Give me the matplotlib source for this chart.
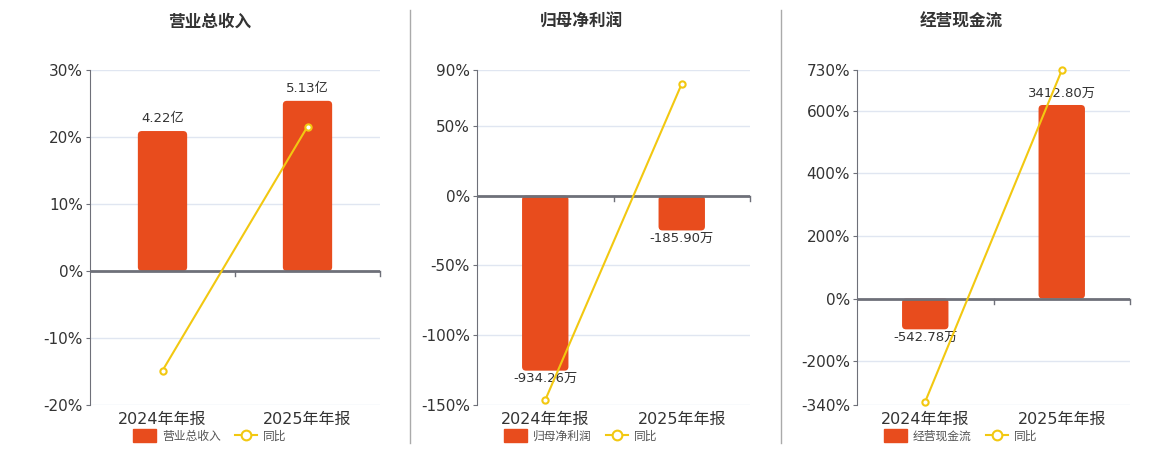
import matplotlib.pyplot as plt
import matplotlib.transforms as mtrans
from matplotlib.lines import Line2D
from matplotlib.patches import Patch, FancyBboxPatch

plt.rcParams['font.family'] = ['DejaVu Sans', 'Noto Sans CJK SC']

# data
categories = ['2024年年报', '2025年年报']
titles = ['营业总收入', '归母净利润', '经营现金流']
bar_values = [[4.22, 5.13], [-934.26, -185.90], [-542.78, 3412.80]]
bar_labels = [['4.22亿', '5.13亿'], ['-934.26万', '-185.90万'], ['-542.78万', '3412.80万']]
yoy_values = [[-14.86, 21.56], [-146.4, 80.1], [-329.0, 728.76]]
pct_ticks = [[-20, -10, 0, 10, 20, 30],
             [-150, -100, -50, 0, 50, 90],
             [-340, -200, 0, 200, 400, 600, 730]]
# bar unit per percent point (the hidden bar axis shares zero with the % axis)
bar_scale = [0.202, 7.45, 5.52]

BAR = '#e84c1d'
LINE = '#f2c811'
AXC = '#6e7079'
GRID = '#e0e6f1'
TXT = '#333333'

W, H = 1160, 450
fig = plt.figure(figsize=(W / 100, H / 100), dpi=100)

panels = [(90, 290, 210), (477, 273, 581), (857, 273, 961)]  # left px, width px, title centre px
top, bottom = 70, 405
radius_px = 4

for i, (left, width, tc) in enumerate(panels):
    rect = [left / W, (H - bottom) / H, width / W, (bottom - top) / H]
    ax_bar = fig.add_axes(rect)
    ax = ax_bar.twinx()
    ax.set_zorder(ax_bar.get_zorder() + 1)
    ax.patch.set_visible(False)

    lo, hi = pct_ticks[i][0], pct_ticks[i][-1]
    k = bar_scale[i]
    x = list(range(len(categories)))

    # bars on hidden axis
    ax_bar.set_ylim(lo * k, hi * k)
    ax_bar.set_xlim(-0.5, len(categories) - 0.5)
    ax_bar.set_yticks([t * k for t in pct_ticks[i]])
    ax_bar.grid(axis='y', color=GRID, lw=1)
    ax_bar.set_axisbelow(True)
    ax_bar.tick_params(axis='y', left=False, right=False, labelleft=False)
    for s in ax_bar.spines.values():
        s.set_visible(False)
    bars = ax_bar.bar(x, bar_values[i], width=0.34, color=BAR, zorder=2)

    # rounded corners
    px_x = width / len(categories)
    px_y = (bottom - top) / ((hi - lo) * k)
    r = radius_px / px_x
    for b, v in zip(bars, bar_values[i]):
        b.set_visible(False)
        fb = FancyBboxPatch((b.get_x(), min(0, v)), b.get_width(), abs(v),
                            boxstyle=f'round,pad=0,rounding_size={r}',
                            mutation_aspect=px_x / px_y, fc=BAR, ec='none', zorder=2)
        ax_bar.add_patch(fb)

    for b, v, lab in zip(bars, bar_values[i], bar_labels[i]):
        if v >= 0:
            ax_bar.annotate(lab, (b.get_x() + b.get_width() / 2, v), xytext=(0, 4),
                            textcoords='offset points', ha='center', va='bottom',
                            fontsize=9.5, color=TXT)
        else:
            ax_bar.annotate(lab, (b.get_x() + b.get_width() / 2, v), xytext=(0, -1),
                            textcoords='offset points', ha='center', va='top',
                            fontsize=9.5, color=TXT)
    ax_bar.set_xticks(x)
    ax_bar.set_xticklabels(categories, fontsize=11.5, color=TXT)
    ax_bar.tick_params(axis='x', length=0, pad=5)

    # percent axis (visible, on the left)
    ax.set_ylim(lo, hi)
    ax.yaxis.tick_left()
    ax.set_yticks(pct_ticks[i])
    ax.set_yticklabels([f'{t}%' for t in pct_ticks[i]], fontsize=11, color=TXT)
    ax.tick_params(axis='y', length=3, color=AXC, pad=2)
    for s in ['top', 'right', 'bottom']:
        ax.spines[s].set_visible(False)
    ax.spines['left'].set_color(AXC)
    ax.axhline(0, color=AXC, lw=2, zorder=3)
    tr = mtrans.blended_transform_factory(ax.transData, ax.transAxes)
    zf = (0 - lo) / (hi - lo)
    for bnd in [xi + 0.5 for xi in x]:
        ax.plot([bnd, bnd], [zf, zf - 0.015], color=AXC, lw=1, transform=tr, clip_on=False)
    ax.plot(x, yoy_values[i], color=LINE, lw=1.5, marker='o', ms=4.5,
            mfc='white', mec=LINE, mew=1.5, zorder=4, clip_on=False)

    fig.text(tc / W, 1 - 22 / H, titles[i], ha='center', va='center',
             fontsize=12, fontweight='bold', color=TXT, family=['Noto Sans CJK SC'])

    handles = [Patch(facecolor=BAR, edgecolor=BAR, label=titles[i], joinstyle='round'),
               Line2D([], [], color=LINE, lw=1.5, marker='o', ms=7, mfc='white',
                      mec=LINE, mew=1.5, label='同比')]
    ax.legend(handles=handles, ncol=2, loc='center', frameon=False,
              bbox_to_anchor=(tc / W, 1 - 436 / H), bbox_transform=fig.transFigure,
              prop={'size': 8.5, 'family': ['Noto Sans CJK SC']},
              handlelength=1.9, handleheight=1.25, columnspacing=1.2, handletextpad=0.5,
              labelcolor='#555555')

for xs in [410, 781]:
    fig.add_artist(Line2D([xs / W, xs / W], [1 - 10 / H, 1 - 443 / H], color='#aaaaaa', lw=1))

fig.savefig('out.png', dpi=100, facecolor='white')
